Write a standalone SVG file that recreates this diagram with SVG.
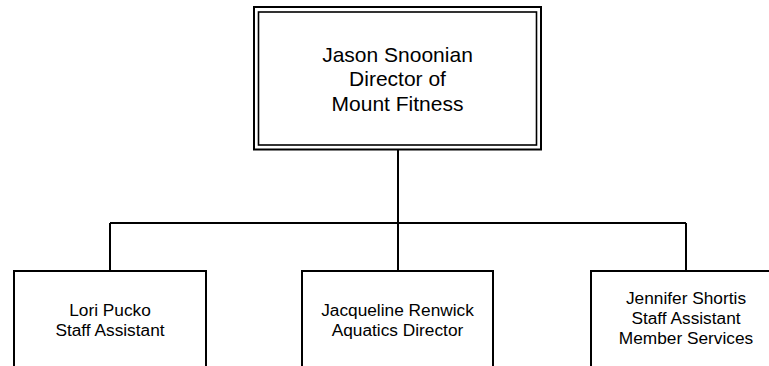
<svg xmlns="http://www.w3.org/2000/svg" width="769" height="366" viewBox="0 0 769 366">
<style>
.box{fill:#ffffff;stroke:#000000;stroke-width:2}
.inner{fill:none;stroke:#000000;stroke-width:1.6}
.conn{fill:none;stroke:#000000;stroke-width:2}
text{font-family:"Liberation Sans",Arial,sans-serif;fill:#000000;text-anchor:middle}
.t1{font-size:21px}
.t2{font-size:17.3px}
</style>
<rect x="0" y="0" width="769" height="366" fill="#ffffff"/>
<g id="connectors">
<path class="conn" d="M398,150 V223 M110,223 H686 M110,223 V271 M398,223 V271 M686,223 V271"/>
</g>
<g id="director">
<rect class="box" x="254" y="7" width="287" height="142.5"/>
<rect class="inner" x="258.5" y="12" width="278" height="133"/>
<text class="t1" x="397.5" y="62">Jason Snoonian</text>
<text class="t1" x="397.5" y="86">Director of</text>
<text class="t1" x="397.5" y="110.5">Mount Fitness</text>
</g>
<g id="lori">
<rect class="box" x="14" y="271" width="192" height="130"/>
<text class="t2" x="110" y="315.5">Lori Pucko</text>
<text class="t2" x="110" y="335.5">Staff Assistant</text>
</g>
<g id="jacqueline">
<rect class="box" x="302" y="271" width="191" height="130"/>
<text class="t2" x="397.5" y="315.5">Jacqueline Renwick</text>
<text class="t2" x="397.5" y="335.5">Aquatics Director</text>
</g>
<g id="jennifer">
<rect class="box" x="591" y="271" width="192" height="130"/>
<text class="t2" x="686" y="304">Jennifer Shortis</text>
<text class="t2" x="686" y="324">Staff Assistant</text>
<text class="t2" x="686" y="344">Member Services</text>
</g>
</svg>
